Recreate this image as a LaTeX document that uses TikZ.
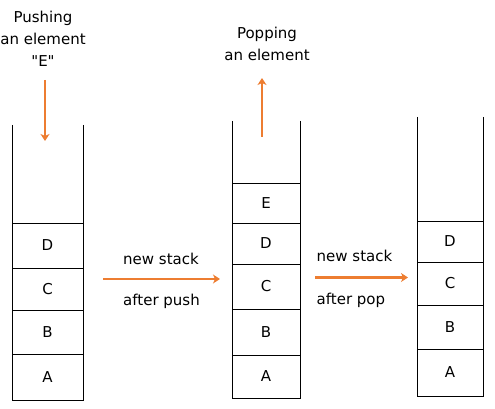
\documentclass[tikz,border=0pt]{standalone}
\usepackage{fontspec}
\newfontfamily\dvs{DejaVu Sans}
\usetikzlibrary{arrows.meta}
\definecolor{arrorange}{HTML}{ED7D31}
\begin{document}
\begin{tikzpicture}[x=1pt,y=-1pt,
  every node/.style={font=\dvs\fontsize{15}{22}\selectfont},
  cell/.style={draw=black,line width=1pt,minimum width=#1,inner sep=0pt,outer sep=0pt,anchor=north},
  wall/.style={draw=black,line width=1pt},
  oarrow/.style={draw=arrorange,line width=2.6pt,-{Stealth[length=7pt,width=9pt,inset=2pt]}},
  lbl/.style={align=center,inner sep=0pt},
  albl/.style={anchor=west,inner sep=0pt}]
\useasboundingbox (0,0) rectangle (495,409);
% stack 1
\node[cell=71pt,minimum height=45pt] (s1d) at (47.5,223) {D};
\node[cell=71pt,minimum height=42pt] (s1c) at (47.5,268) {C};
\node[cell=71pt,minimum height=44pt] (s1b) at (47.5,310) {B};
\node[cell=71pt,minimum height=46pt] (s1a) at (47.5,354) {A};
\coordinate (s1tl) at (12,125);
\coordinate (s1tr) at (83,125);
\draw[wall] (s1tl) -- (s1d.north west);
\draw[wall] (s1tr) -- (s1d.north east);
% stack 2
\node[cell=68pt,minimum height=40pt] (s2e) at (266,183) {E};
\node[cell=68pt,minimum height=41pt] (s2d) at (266,223) {D};
\node[cell=68pt,minimum height=45pt] (s2c) at (266,264) {C};
\node[cell=68pt,minimum height=46pt] (s2b) at (266,309) {B};
\node[cell=68pt,minimum height=43pt] (s2a) at (266,355) {A};
\coordinate (s2tl) at (232,121);
\coordinate (s2tr) at (300,121);
\draw[wall] (s2tl) -- (s2e.north west);
\draw[wall] (s2tr) -- (s2e.north east);
% stack 3
\node[cell=66pt,minimum height=41pt] (s3d) at (450,221) {D};
\node[cell=66pt,minimum height=43pt] (s3c) at (450,262) {C};
\node[cell=66pt,minimum height=44pt] (s3b) at (450,305) {B};
\node[cell=66pt,minimum height=47pt] (s3a) at (450,349) {A};
\coordinate (s3tl) at (417,117);
\coordinate (s3tr) at (483,117);
\draw[wall] (s3tl) -- (s3d.north west);
\draw[wall] (s3tr) -- (s3d.north east);
% push
\node[lbl] (push) at (43,39) {Pushing\\an element\\"E"};
\coordinate (pushs) at (45,80);
\coordinate (pushe) at (45,141);
\draw[oarrow] (pushs) -- (pushe);
% pop
\node[lbl] (pop) at (267,43.5) {Popping\\an element};
\coordinate (pops) at (262,137);
\coordinate (pope) at (262,78);
\draw[oarrow] (pops) -- (pope);
% arrow 1
\coordinate (a1s) at (103,279);
\coordinate (a1e) at (220,279);
\draw[oarrow] (a1s) -- (a1e);
\node[albl] (a1t) at (123,259) {new stack};
\node[albl] (a1b) at (123,301) {after push};
% arrow 2
\coordinate (a2s) at (315,277.5);
\coordinate (a2e) at (408,277.5);
\draw[oarrow] (a2s) -- (a2e);
\node[albl] (a2t) at (316.5,256) {new stack};
\node[albl] (a2b) at (316.5,300) {after pop};
\end{tikzpicture}
\end{document}
